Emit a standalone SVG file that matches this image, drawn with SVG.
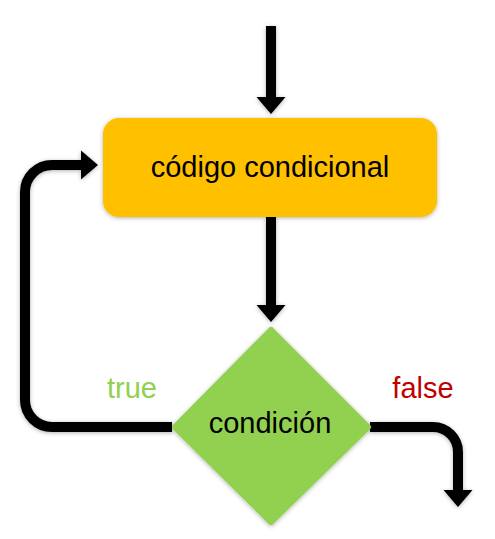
<svg xmlns="http://www.w3.org/2000/svg" width="495" height="539" viewBox="0 0 495 539">
  <defs>
    <filter id="sh" x="-20%" y="-20%" width="140%" height="140%">
      <feDropShadow dx="0" dy="1" stdDeviation="2" flood-color="#000" flood-opacity="0.3"/>
    </filter>
    <marker id="ah" markerUnits="userSpaceOnUse" markerWidth="18" markerHeight="30" refX="1" refY="14.5" orient="auto" overflow="visible">
      <path d="M0,0 L17,14.5 L0,29 Z" fill="#000"/>
    </marker>
  </defs>
  <style>
    .conn { fill: none; stroke: #000; stroke-width: 10; marker-end: url(#ah); }
    .lbl { font-family: "Liberation Sans", Arial, sans-serif; font-size: 29px; text-anchor: middle; }
  </style>
  <rect width="495" height="539" fill="#fff"/>
  <g id="connectors" filter="url(#sh)">
    <path class="conn" d="M271,26 V98"/>
    <path class="conn" d="M271,217 V306"/>
    <path class="conn" d="M172,427 H52 A27,27 0 0 1 25,400 V192 A27,27 0 0 1 52,165 H82"/>
    <path class="conn" d="M370,427 H433 A25,25 0 0 1 458,452 V491"/>
  </g>
  <g id="node-codigo">
    <rect x="103" y="118" width="334" height="99" rx="16" fill="#FFC000" filter="url(#sh)"/>
    <text class="lbl" x="270" y="177" fill="#000">código condicional</text>
  </g>
  <g id="node-condicion">
    <polygon points="271,330 368,427 271,522 175,427" fill="#92D050" stroke="#92D050" stroke-width="6" stroke-linejoin="round" filter="url(#sh)"/>
    <text class="lbl" x="270" y="433" fill="#000">condición</text>
  </g>
  <g id="labels">
    <text class="lbl" x="132" y="398" fill="#92D050">true</text>
    <text class="lbl" x="423" y="398" fill="#C00000">false</text>
  </g>
</svg>
